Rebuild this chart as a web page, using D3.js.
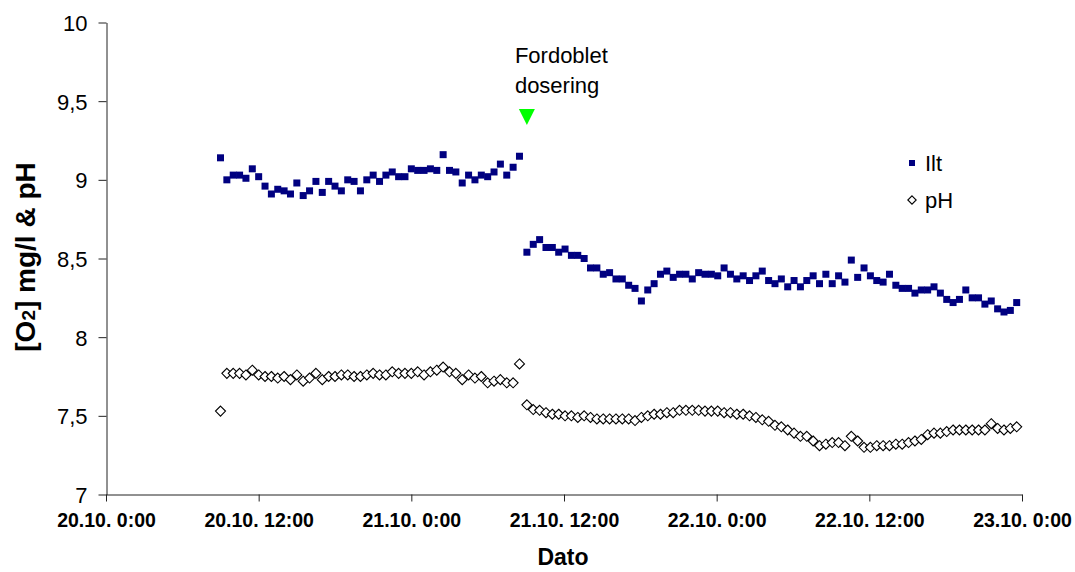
<!DOCTYPE html>
<html><head><meta charset="utf-8">
<script src="https://cdn.jsdelivr.net/npm/d3@7"></script>
<style>
body{margin:0;background:#fff}
svg{display:block}
text{font-family:"Liberation Sans",Arial,sans-serif;fill:#000}
</style>
</head><body>
<svg id="chart" width="1075" height="572"></svg>
<script>
// ---- data ----
const iltBefore = [9.14, 9.00, 9.03, 9.03, 9.01, 9.07, 9.02, 8.96, 8.91, 8.94, 8.93, 8.91, 8.98, 8.90, 8.93, 8.99,
  8.92, 8.99, 8.96, 8.93, 9.00, 8.99, 8.93, 9.00, 9.03, 8.99, 9.03, 9.05, 9.02, 9.02, 9.07, 9.06,
  9.06, 9.07, 9.06, 9.16, 9.06, 9.05, 8.98, 9.03, 9.00, 9.03, 9.02, 9.05, 9.10, 9.03, 9.08, 9.15];
const iltAfter = [8.54, 8.59, 8.62, 8.57, 8.57, 8.54, 8.56, 8.52, 8.52, 8.50, 8.44, 8.44, 8.40, 8.41, 8.37, 8.37,
  8.33, 8.31, 8.23, 8.30, 8.34, 8.40, 8.42, 8.38, 8.40, 8.40, 8.37, 8.41, 8.40, 8.40, 8.39, 8.44,
  8.40, 8.37, 8.39, 8.36, 8.39, 8.42, 8.36, 8.34, 8.37, 8.32, 8.36, 8.32, 8.36, 8.39, 8.34, 8.40,
  8.34, 8.39, 8.35, 8.49, 8.38, 8.44, 8.39, 8.36, 8.35, 8.40, 8.33, 8.31, 8.31, 8.28, 8.30, 8.30,
  8.32, 8.28, 8.24, 8.22, 8.24, 8.30, 8.25, 8.25, 8.21, 8.23, 8.18, 8.16, 8.17, 8.22];
const phBefore = [7.53, 7.77, 7.77, 7.77, 7.76, 7.79, 7.76, 7.75, 7.75, 7.74, 7.75, 7.73, 7.76, 7.72, 7.74, 7.77,
  7.73, 7.75, 7.75, 7.76, 7.76, 7.75, 7.75, 7.76, 7.77, 7.76, 7.76, 7.78, 7.77, 7.77, 7.77, 7.78,
  7.76, 7.78, 7.79, 7.81, 7.78, 7.77, 7.73, 7.76, 7.74, 7.75, 7.71, 7.72, 7.73, 7.71, 7.71, 7.83];
const phAfter = [7.57, 7.54, 7.535, 7.52, 7.51, 7.51, 7.50, 7.50, 7.49, 7.50, 7.49, 7.48, 7.48, 7.48, 7.48, 7.48,
  7.48, 7.47, 7.49, 7.50, 7.51, 7.51, 7.52, 7.52, 7.535, 7.535, 7.535, 7.535, 7.53, 7.53, 7.53, 7.52,
  7.52, 7.51, 7.51, 7.50, 7.49, 7.475, 7.465, 7.44, 7.43, 7.41, 7.39, 7.37, 7.37, 7.34, 7.31, 7.32,
  7.33, 7.33, 7.31, 7.37, 7.34, 7.30, 7.30, 7.31, 7.31, 7.31, 7.32, 7.32, 7.33, 7.34, 7.35, 7.38,
  7.39, 7.39, 7.40, 7.41, 7.41, 7.41, 7.41, 7.41, 7.41, 7.45, 7.42, 7.41, 7.42, 7.43];
const beforeStart = new Date(2000, 9, 20, 9, 0);
const afterStart = new Date(2000, 9, 21, 9, 5);
const sampleMinutes = 30;
const xTickDates = [new Date(2000,9,20,0), new Date(2000,9,20,12), new Date(2000,9,21,0), new Date(2000,9,21,12),
  new Date(2000,9,22,0), new Date(2000,9,22,12), new Date(2000,9,23,0)];
const xTickLabels = ["20.10. 0:00", "20.10. 12:00", "21.10. 0:00", "21.10. 12:00", "22.10. 0:00", "22.10. 12:00", "23.10. 0:00"];
const yTickValues = [7, 7.5, 8, 8.5, 9, 9.5, 10];
const yTickLabels = ["7", "7,5", "8", "8,5", "9", "9,5", "10"];
const seriesNames = ["Ilt", "pH"];
const eventTime = new Date(2000, 9, 21, 9, 5);
const eventLevel = 9.4;
const eventLabel = ["Fordoblet", "dosering"];

// ---- build rows ----
function rows(values, start) {
  return values.map((v, i) => ({ t: new Date(start.getTime() + i * sampleMinutes * 60000), v }));
}
const ilt = rows(iltBefore, beforeStart).concat(rows(iltAfter, afterStart));
const ph = rows(phBefore, beforeStart).concat(rows(phAfter, afterStart));

const svg = d3.select("#chart");
const x = d3.scaleTime().domain([xTickDates[0], xTickDates[xTickDates.length - 1]]).range([106, 1022]);
const y = d3.scaleLinear().domain([7, 10]).range([494.5, 22.5]);

// axes
const yAxis = svg.append("g").attr("transform", "translate(106.5,0)")
  .call(d3.axisLeft(y).tickValues(yTickValues).tickFormat((d, i) => yTickLabels[i]).tickSize(8).tickSizeOuter(0).tickPadding(11));
yAxis.selectAll("text").style("font-size", "22px").attr("dy", "0.36em");
const xAxis = svg.append("g").attr("transform", "translate(0,494.5)")
  .call(d3.axisBottom(x).tickValues(xTickDates).tickFormat((d, i) => xTickLabels[i]).tickSize(7).tickSizeOuter(0).tickPadding(8));
xAxis.selectAll("text").style("font-size", "19.5px").style("font-weight", "bold").attr("dy", "0.9em");
svg.selectAll(".domain, .tick line").attr("stroke", "#222").attr("stroke-width", 1);

// axis titles
svg.append("text").attr("x", 563).attr("y", 565).attr("text-anchor", "middle")
  .style("font-size", "23px").style("font-weight", "bold").text("Dato");
const yt = svg.append("text").attr("transform", "translate(35,257) rotate(-90)").attr("text-anchor", "middle")
  .style("font-size", "28px").style("font-weight", "bold");
yt.append("tspan").text("[O");
yt.append("tspan").text("2").style("font-size", "19px");
yt.append("tspan").text("] mg/l & pH");

// markers
const diamond = s => `M0,${-s}L${s},0L0,${s}L${-s},0Z`;
svg.append("g").selectAll("path").data(ph).join("path")
  .attr("transform", d => `translate(${x(d.t)},${y(d.v)})`)
  .attr("d", diamond(5)).attr("fill", "#fff").attr("stroke", "#000").attr("stroke-width", 1.1);
svg.append("g").selectAll("rect").data(ilt).join("rect")
  .attr("x", d => x(d.t) - 3.5).attr("y", d => y(d.v) - 3.5)
  .attr("width", 7).attr("height", 7).attr("fill", "#000080");

// event marker
const ex = x(eventTime), ey = y(eventLevel);
svg.append("path").attr("d", `M${ex - 8},${ey - 8}L${ex + 8},${ey - 8}L${ex},${ey + 8}Z`).attr("fill", "#00ff00");
svg.append("text").attr("x", ex - 12).attr("y", 63).style("font-size", "22px").text(eventLabel[0]);
svg.append("text").attr("x", ex - 12).attr("y", 93).style("font-size", "22px").text(eventLabel[1]);

// legend
const lg = svg.append("g");
lg.append("rect").attr("x", 909).attr("y", 160).attr("width", 6).attr("height", 6).attr("fill", "#000080");
lg.append("text").attr("x", 925).attr("y", 171).style("font-size", "22px").text(seriesNames[0]);
lg.append("path").attr("transform", "translate(912,200)").attr("d", diamond(4.2)).attr("fill", "#fff").attr("stroke", "#000").attr("stroke-width", 1.1);
lg.append("text").attr("x", 925).attr("y", 208).style("font-size", "22px").text(seriesNames[1]);
</script>
</body></html>
